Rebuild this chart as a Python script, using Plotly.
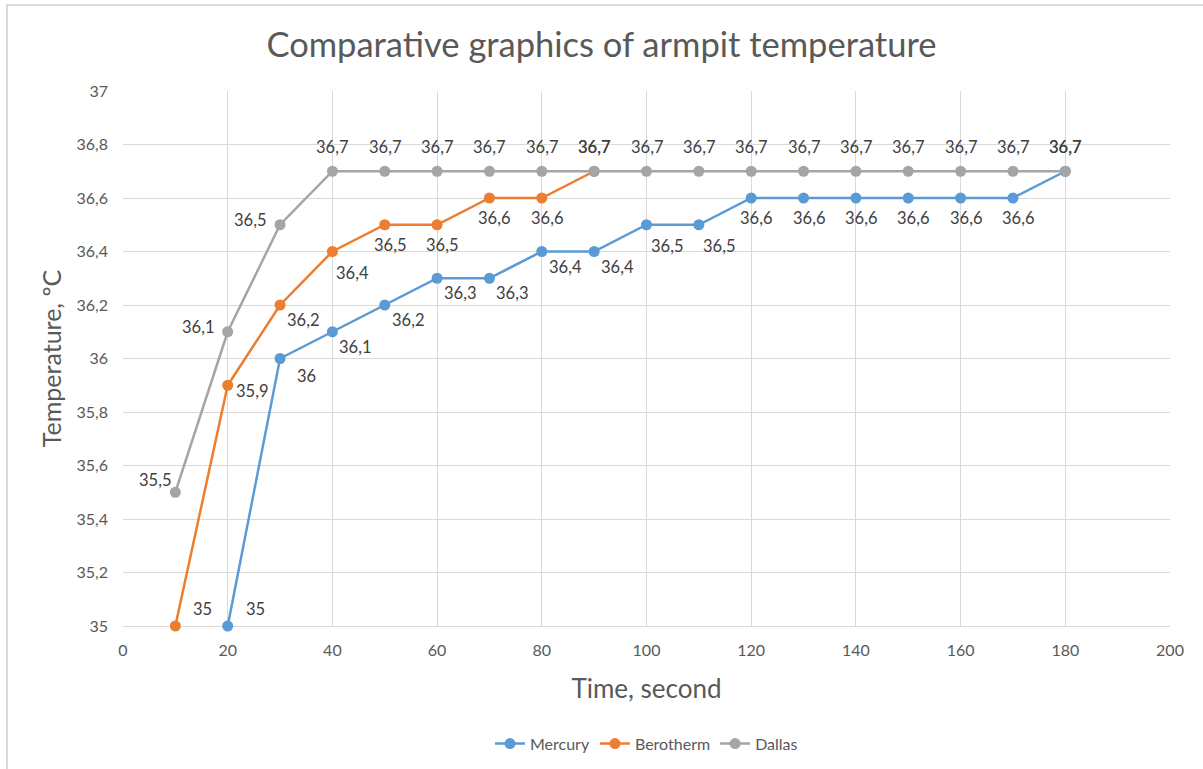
import plotly.graph_objects as go

# ---- data ----
mercury_x = [20, 30, 40, 50, 60, 70, 80, 90, 100, 110, 120, 130, 140, 150, 160, 170, 180]
mercury_y = [35, 36, 36.1, 36.2, 36.3, 36.3, 36.4, 36.4, 36.5, 36.5, 36.6, 36.6, 36.6, 36.6, 36.6, 36.6, 36.7]

berotherm_x = [10, 20, 30, 40, 50, 60, 70, 80, 90]
berotherm_y = [35, 35.9, 36.2, 36.4, 36.5, 36.5, 36.6, 36.6, 36.7]

dallas_x = [10, 20, 30, 40, 50, 60, 70, 80, 90, 100, 110, 120, 130, 140, 150, 160, 170, 180]
dallas_y = [35.5, 36.1, 36.5, 36.7, 36.7, 36.7, 36.7, 36.7, 36.7, 36.7, 36.7, 36.7, 36.7, 36.7, 36.7, 36.7, 36.7, 36.7]

x_ticks = [0, 20, 40, 60, 80, 100, 120, 140, 160, 180, 200]
y_ticks = [35, 35.2, 35.4, 35.6, 35.8, 36, 36.2, 36.4, 36.6, 36.8, 37]

# ---- label placement (style) ----
OFF = {
    "t": ("center", 0, 24),
    "b": ("center", 5, -20),
    "br": ("left", 5, -15),
    "bb": ("left", 2, -21),
    "bR": ("left", 15, -17),
    "r": ("left", 6, -6),
    "l": ("right", -12, 5),
    "tl": ("right", -2, 12),
    "tr": ("left", 16, 17),
}
mercury_pos = ["tr", "bR"] + ["br"] * 6 + ["bb"] * 2 + ["b"] * 6 + ["t"]
berotherm_pos = ["tr", "r", "br", "bb", "b", "b", "b", "b", "t"]
dallas_pos = ["tl", "l", "l"] + ["t"] * 15

FONT = "Lato, 'Open Sans', sans-serif"
TXT = "#595959"


def fmt(v):
    return ("%g" % v).replace(".", ",")


fig = go.Figure()
series = [
    ("Mercury", mercury_x, mercury_y, "#5B9BD5", mercury_pos),
    ("Berotherm", berotherm_x, berotherm_y, "#ED7D31", berotherm_pos),
    ("Dallas", dallas_x, dallas_y, "#A5A5A5", dallas_pos),
]
for name, xs, ys, color, pos in series:
    fig.add_trace(go.Scatter(
        x=xs, y=ys, name=name, mode="lines+markers",
        line=dict(color=color, width=2.5),
        marker=dict(color=color, size=11),
        cliponaxis=False,
    ))
    for xv, yv, p in zip(xs, ys, pos):
        anchor, dx, dy = OFF[p]
        fig.add_annotation(x=xv, y=yv, xref="x", yref="y", text=fmt(yv),
                           showarrow=False, xanchor=anchor, yanchor="middle",
                           xshift=dx, yshift=dy,
                           font=dict(family=FONT, size=16.5, color="#404040"))

fig.update_layout(
    width=1203, height=769,
    margin=dict(l=123, r=33, t=91, b=143, autoexpand=False),
    paper_bgcolor="white", plot_bgcolor="white",
    separators=",.",
    font=dict(family=FONT, color=TXT),
    title=dict(text="Comparative graphics of armpit temperature",
               x=0.5, xanchor="center", y=0.941, yanchor="middle",
               font=dict(family=FONT, size=34.5, color=TXT)),
    showlegend=True,
    legend=dict(orientation="h", x=0.5, xanchor="center", y=-0.22, yanchor="middle",
                font=dict(family=FONT, size=16, color=TXT)),
    xaxis=dict(range=[0, 200], tickvals=x_ticks, showgrid=True, gridcolor="#D9D9D9",
               gridwidth=1, zeroline=False, showline=True, linecolor="#D9D9D9",
               layer="below traces", automargin=False,
               ticks="", tickfont=dict(family=FONT, size=16, color=TXT),
               ticklabelstandoff=10,
               title=dict(text="Time, second", font=dict(family=FONT, size=26, color=TXT),
                          standoff=21)),
    yaxis=dict(range=[35, 37], tickvals=y_ticks, showgrid=True, gridcolor="#D9D9D9",
               gridwidth=1, zeroline=False, showline=False, ticks="",
               layer="below traces", automargin=False,
               tickfont=dict(family=FONT, size=16, color=TXT),
               ticklabelstandoff=14,
               title=dict(text="Temperature, ºC", font=dict(family=FONT, size=25, color=TXT),
                          standoff=7)),
)

fig.add_shape(type="rect", xref="paper", yref="paper",
              x0=-0.1108, x1=1.06, y0=-0.4, y1=1.1607,
              line=dict(color="#D9D9D9", width=2), fillcolor="rgba(0,0,0,0)", layer="below")

fig.write_html("out.html")
